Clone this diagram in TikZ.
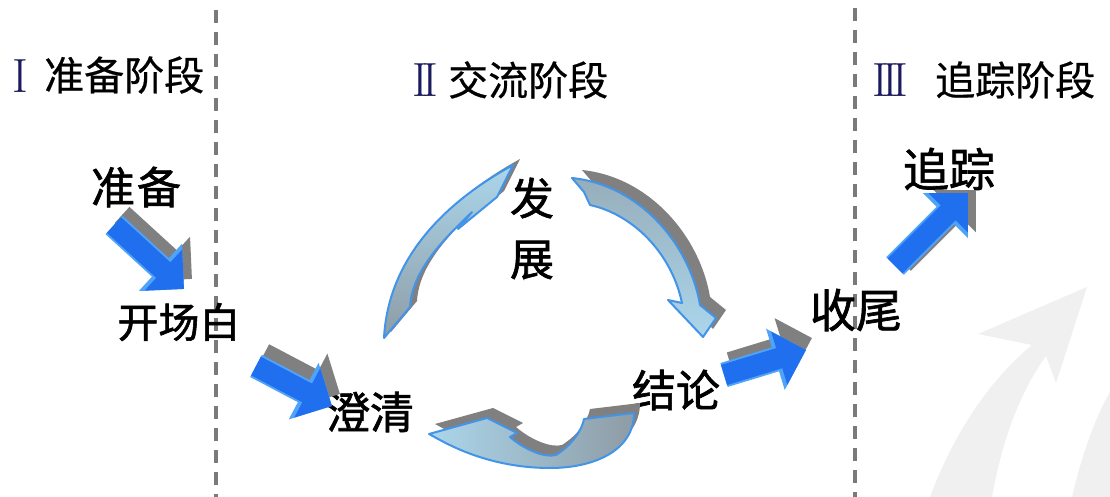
\documentclass[tikz,border=0pt]{standalone}
\usepackage{fontspec}
\newfontfamily\cjk[FakeBold=0.6]{Noto Sans CJK SC}
\newfontfamily\cjkb[FakeBold=1.4]{Noto Sans CJK SC}
\usetikzlibrary{arrows.meta}
\definecolor{ablue}{HTML}{1F6FEF}
\definecolor{ablueline}{HTML}{4FA3F8}
\definecolor{ashadow}{HTML}{808080}
\definecolor{clight}{HTML}{ABD6EB}
\definecolor{cgray}{HTML}{8E9CA6}
\definecolor{cline}{HTML}{4294E8}
\definecolor{navy}{HTML}{1B1B5E}
\definecolor{dashgray}{HTML}{7A7A7A}
\definecolor{wm}{HTML}{F0F0F0}
\tikzset{
  divider/.style={draw=dashgray, line width=3.5pt, dash pattern=on 13pt off 9pt},
  header/.style={inner sep=0pt, anchor=west, font=\cjk\fontsize{40}{40}\selectfont},
  roman/.style={inner sep=0pt, anchor=west, text=navy, font=\rmfamily\fontsize{48}{48}\selectfont},
  label/.style={inner sep=0pt, font=\cjkb\fontsize{44}{44}\selectfont},
  blockshadow/.style={draw=ashadow, line width=22pt, -{Triangle[length=30pt,width=58pt]}},
  blockrim/.style={draw=ablueline, line width=25pt, -{Triangle[length=32pt,width=62pt]}},
  blockarrow/.style={draw=ablue, line width=21pt, -{Triangle[length=28pt,width=54pt]}},
  swooshshadow/.style={fill=ashadow},
  swoosh/.style={draw=cline, line width=2pt, line join=round},
}
\begin{document}
\begin{tikzpicture}[x=1pt,y=-1pt]
\path[use as bounding box, fill=white] (0,0) rectangle (1110,497);

% watermark
\fill[wm] (930,497) .. controls (955,430) and (992,378) .. (1032,345) -- (978,334) -- (1087,287) -- (1056,383) -- (1046,356) .. controls (1020,392) and (1002,440) .. (992,497) -- cycle;
\fill[wm] (1072,497) .. controls (1082,455) and (1094,420) .. (1110,392) -- (1110,497) -- cycle;

% dividers
\coordinate (d1t) at (216,10); \coordinate (d1b) at (216,497);
\coordinate (d2t) at (855,8);  \coordinate (d2b) at (855,497);
\draw[divider] (d1t) -- (d1b);
\draw[divider] (d2t) -- (d2b);

% headers
\node[roman] (r1) at (12,76) {I};
\node[header] (h1) at (44,75) {准备阶段};
\node[roman] (r2) at (412,80) {I\kern-0.12em I};
\node[header] (h2) at (448,80) {交流阶段};
\node[roman] (r3) at (872,80) {I\kern-0.12em I\kern-0.12em I};
\node[header] (h3) at (935,80) {追踪阶段};

% labels
\node[label] (zb) at (136,187) {准\kern2pt 备};
\node[label, font=\cjkb\fontsize{41}{41}\selectfont] (kcb) at (179,322) {开场白};
\node[label] (cq) at (370,412) {澄清};
\node[label] (fa) at (532,198) {发};
\node[label] (zh) at (532,260) {展};
\node[label] (jl) at (676,390) {结论};
\node[label, font=\cjkb\fontsize{46}{46}\selectfont] (sw) at (856,310) {收尾};
\node[label, font=\cjkb\fontsize{46}{46}\selectfont] (zz) at (949,169) {追踪};

% straight block arrows
\coordinate (a1s) at (114,225); \coordinate (a1e) at (184,289);
\coordinate (a2s) at (256,366); \coordinate (a2e) at (332,406);
\coordinate (a3s) at (724,375); \coordinate (a3e) at (806,350);
\coordinate (a4s) at (895,266); \coordinate (a4e) at (968,193);
\foreach \s/\e/\dx/\dy in {a1s/a1e/8/-10, a2s/a2e/8/-12, a3s/a3e/6/-12, a4s/a4e/8/-3}{
  \draw[blockshadow] ([shift={(\dx,\dy)}]\s) -- ([shift={(\dx,\dy)}]\e);
  \draw[blockrim] (\s) -- (\e);
  \draw[blockarrow] (\s) -- (\e);
}

% curved swoosh arrows: shadows
\begin{scope}[shift={(7,-6)}]
\fill[swooshshadow] (384,338) .. controls (388,262) and (440,205) .. (513,165) -- (497,197) -- (458,229) -- (472,212) .. controls (445,238) and (412,270) .. (410,307) -- cycle;
\end{scope}
\begin{scope}[shift={(10,-8)}]
\fill[swooshshadow] (572,178) .. controls (640,185) and (690,245) .. (700,305) -- (716,318) -- (703,337) -- (668,300) -- (682,303) .. controls (672,255) and (635,215) .. (590,205) -- (584,192) -- cycle;
\end{scope}
\begin{scope}[shift={(6,-10)}]
\fill[swooshshadow] (634,413) .. controls (634,450) and (595,468) .. (550,468) .. controls (500,468) and (462,452) .. (440,440) -- (429,434) -- (487,418) -- (517,433) -- (510,437) .. controls (525,450) and (545,458) .. (556,455) .. controls (572,445) and (582,430) .. (584,419) -- cycle;
\end{scope}

% curved swoosh arrows
\path[swoosh, top color=clight, bottom color=cgray] (384,338) .. controls (388,262) and (440,205) .. (513,165) -- (497,197) -- (458,229) -- (472,212) .. controls (445,238) and (412,270) .. (410,307) -- cycle;
\path[swoosh, top color=cgray!70!clight, bottom color=clight] (572,178) .. controls (640,185) and (690,245) .. (700,305) -- (716,318) -- (703,337) -- (668,300) -- (682,303) .. controls (672,255) and (635,215) .. (590,205) -- (584,192) -- cycle;
\path[swoosh, left color=clight, right color=cgray] (634,413) .. controls (634,450) and (595,468) .. (550,468) .. controls (500,468) and (462,452) .. (440,440) -- (429,434) -- (487,418) -- (517,433) -- (510,437) .. controls (525,450) and (545,458) .. (556,455) .. controls (572,445) and (582,430) .. (584,419) -- cycle;
\end{tikzpicture}
\end{document}
